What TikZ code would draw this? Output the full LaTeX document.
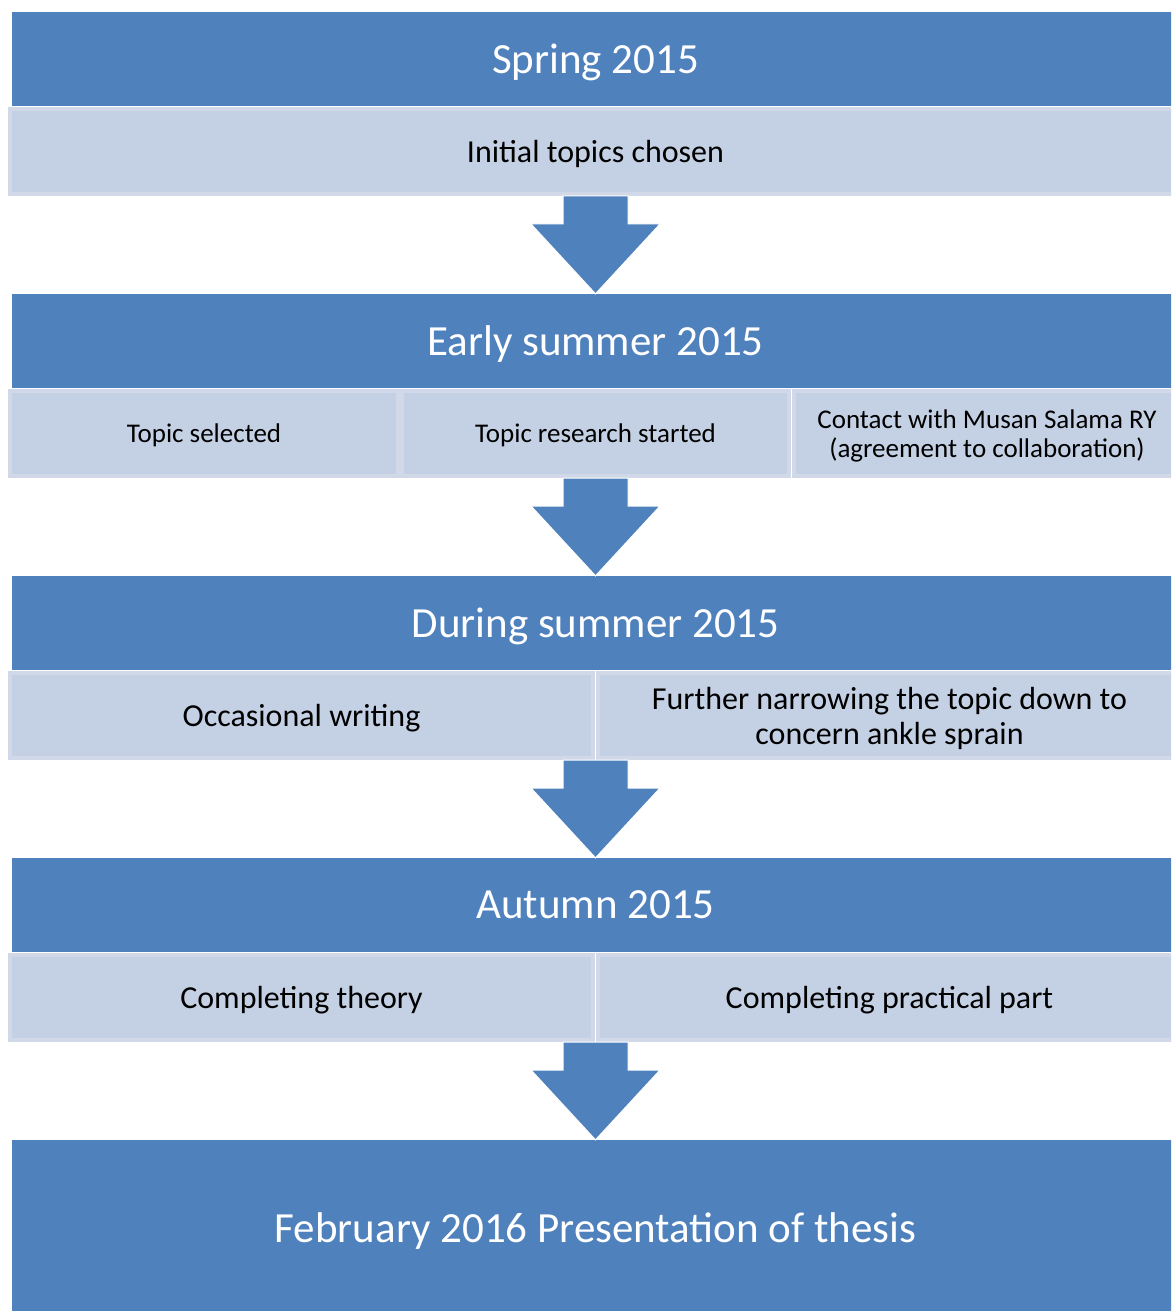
\documentclass[tikz,border=0pt]{standalone}
\usepackage{fontspec}
\setmainfont{Carlito}
\definecolor{hdblue}{RGB}{79,129,189}
\definecolor{cellfill}{RGB}{196,208,227}
\definecolor{cellline}{RGB}{209,217,232}
\begin{document}
\begin{tikzpicture}[x=1bp, y=-1bp,
    header/.style={fill=hdblue, text=white, minimum width=1167bp, minimum height=94bp,
      inner sep=0pt, text depth=0pt, font=\fontsize{43bp}{50bp}\selectfont},
    cell/.style={fill=cellfill, draw=cellline, line width=4bp, minimum height=85bp,
      inner sep=0pt, text depth=0pt, align=center, font=\fontsize{32bp}{35bp}\selectfont},
    smalltext/.style={font=\fontsize{27bp}{29bp}\selectfont},
    blockarrow/.style={fill=hdblue, draw=white, line width=1bp}]
    \useasboundingbox (0,0) rectangle (1171,1311);
    \clip (0,0) rectangle (1171,1311);

    \node[header] (h1) at (595.5,59) {Spring 2015};
    \node[cell, minimum width=1171bp] (c1) at (595.5,151.5) {Initial topics chosen};

    \node[header] (h2) at (595.5,341) {Early summer 2015};
    \node[cell, smalltext, minimum width=387bp] (c2a) at (204,433.5) {Topic selected};
    \node[cell, smalltext, minimum width=387bp] (c2b) at (595.5,433.5) {Topic research started};
    \node[cell, smalltext, minimum width=387bp] (c2c) at (987,433.5) {Contact with Musan Salama RY\\(agreement to collaboration)};

    \node[header] (h3) at (595.5,623) {During summer 2015};
    \node[cell, minimum width=583bp] (c3a) at (301.5,715.5) {Occasional writing};
    \node[cell, minimum width=583bp] (c3b) at (889.5,715.5) {Further narrowing the topic down to\\concern ankle sprain};

    \node[header] (h4) at (595.5,905) {Autumn 2015};
    \node[cell, minimum width=583bp] (c4a) at (301.5,997.5) {Completing theory};
    \node[cell, minimum width=583bp] (c4b) at (889.5,997.5) {Completing practical part};

    \node[header, minimum height=176bp] (h5) at (595.5,1228) {February 2016 Presentation of thesis};

    \coordinate (s1) at (c1.south);
    \coordinate (s2) at (c2b.south);
    \coordinate (s3) at (h3.center |- c3a.south);
    \coordinate (s4) at (h4.center |- c4a.south);

    \foreach \a/\b in {s1/h2, s2/h3, s3/h4, s4/h5}
    \draw[blockarrow] ([xshift=-32.5bp]\a) -- ([xshift=-32.5bp, yshift=-28bp]\a)
      -- ([xshift=-64.5bp, yshift=-28bp]\a) -- (\b.north)
      -- ([xshift=64.5bp, yshift=-28bp]\a) -- ([xshift=32.5bp, yshift=-28bp]\a)
      -- ([xshift=32.5bp]\a) -- cycle;

  \end{tikzpicture}
\end{document}
